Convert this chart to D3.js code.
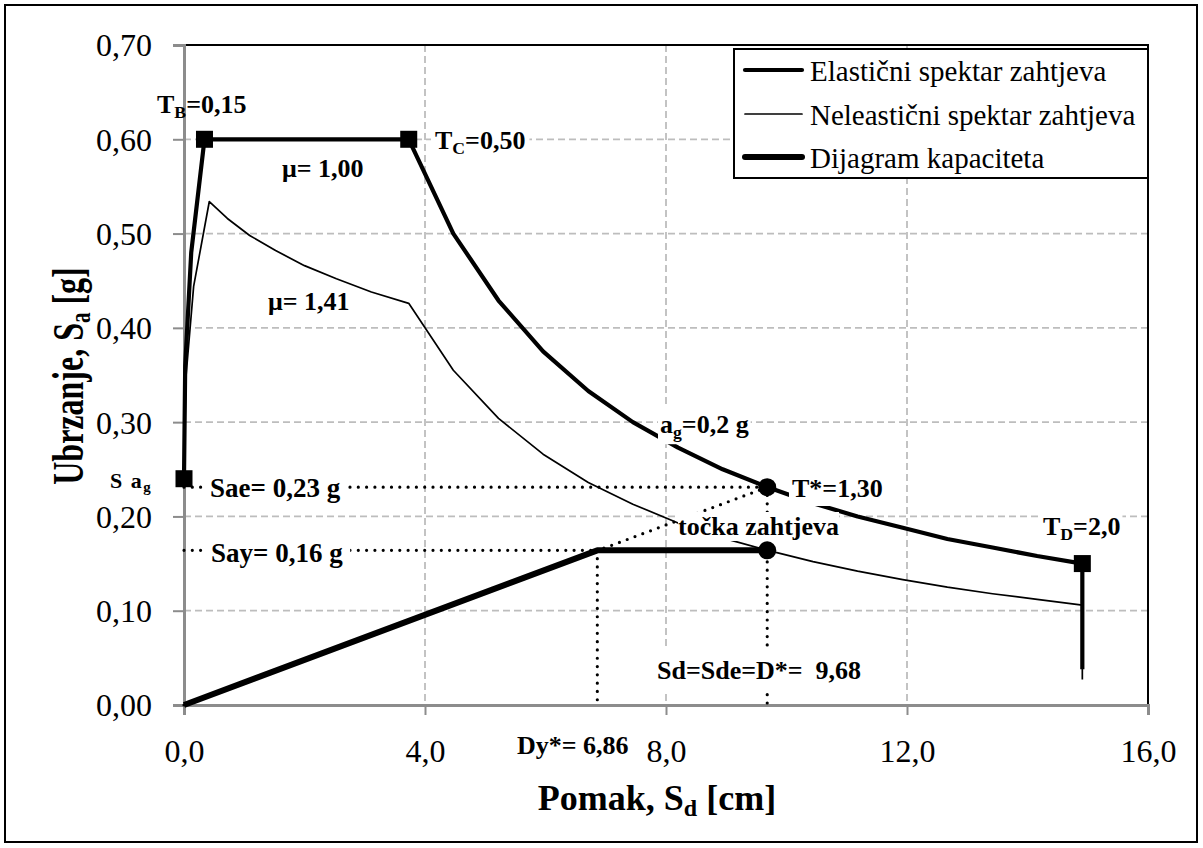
<!DOCTYPE html>
<html><head><meta charset="utf-8">
<script src="https://cdn.jsdelivr.net/npm/d3@7"></script>
<style>
body{margin:0;background:#fff;}
svg, svg text{font-family:"Liberation Serif","Tinos","Nimbus Roman","Times New Roman","DejaVu Serif",serif !important;}
</style></head>
<body><svg id="c" width="1203" height="848"></svg>
<script>
// ---------- data ----------
const xTicks = [0, 4, 8, 12, 16];
const xTickLabels = ["0,0", "4,0", "8,0", "12,0", "16,0"];
const yTicks = [0, 0.1, 0.2, 0.3, 0.4, 0.5, 0.6, 0.7];
const yTickLabels = ["0,00", "0,10", "0,20", "0,30", "0,40", "0,50", "0,60", "0,70"];

const seriesNames = ["Elastični spektar zahtjeva", "Neleastični spektar zahtjeva", "Dijagram kapaciteta"];

// Elastic demand spectrum (Sd [cm], Sa [g])
const elasticSd = [0.00, 0.02, 0.12, 0.34, 3.73, 4.47, 5.22, 5.96, 6.71, 7.45, 8.20, 8.94, 9.69, 10.44, 11.18, 11.93, 12.67, 13.42, 14.16, 14.91, 14.91];
const elasticSa = [0.240, 0.360, 0.480, 0.600, 0.600, 0.500, 0.429, 0.375, 0.333, 0.300, 0.273, 0.250, 0.231, 0.214, 0.200, 0.188, 0.176, 0.167, 0.158, 0.150, 0.038];

// Inelastic demand spectrum (mu = 1,41)
const inelasticSd = [0.00, 0.03, 0.16, 0.42, 0.72, 1.09, 1.52, 2.00, 2.53, 3.11, 3.73, 4.47, 5.22, 5.96, 6.71, 7.45, 8.20, 8.95, 9.69, 10.44, 11.18, 11.93, 12.67, 13.42, 14.16, 14.91, 14.91];
const inelasticSa = [0.240, 0.346, 0.444, 0.534, 0.516, 0.498, 0.482, 0.466, 0.452, 0.438, 0.426, 0.355, 0.304, 0.266, 0.236, 0.213, 0.193, 0.177, 0.164, 0.152, 0.142, 0.133, 0.125, 0.118, 0.112, 0.106, 0.027];

// Capacity diagram
const capacitySd = [0.00, 6.86, 9.68];
const capacitySa = [0.000, 0.164, 0.164];

// Characteristic points (squares) on elastic spectrum
const cornerSd = [0.00, 0.34, 3.73, 14.91];
const cornerSa = [0.240, 0.600, 0.600, 0.150];

// Demand points (circles)
const demandSd = [9.68, 9.68];
const demandSa = [0.231, 0.164];

// Dotted construction lines
const guideFromSd = [0.00, 0.00, 6.86, 9.68, 0.00];
const guideFromSa = [0.231, 0.164, 0.164, 0.231, 0.000];
const guideToSd   = [9.68, 6.86, 6.86, 9.68, 9.68];
const guideToSa   = [0.231, 0.164, 0.000, 0.000, 0.231];

// ---------- drawing ----------
const FONT = '"Liberation Serif","Tinos","Nimbus Roman","Times New Roman","DejaVu Serif",serif';
const svg = d3.select("#c").attr("font-family", FONT);
const L = 184, R = 1148, T = 45, B = 705;
const x = d3.scaleLinear().domain([0, 16]).range([L, R]);
const y = d3.scaleLinear().domain([0, 0.7]).range([B, T]);

// outer border
svg.append("rect").attr("x", 5).attr("y", 5).attr("width", 1192).attr("height", 837)
  .attr("fill", "#fff").attr("stroke", "#000").attr("stroke-width", 2);

// gridlines
const grid = svg.append("g").attr("stroke", "#bdbdbd").attr("stroke-width", 1.8).attr("stroke-dasharray", "7,4");
yTicks.filter(v => v > 0 && v < 0.7).forEach(v => {
  grid.append("line").attr("x1", L).attr("x2", R).attr("y1", y(v)).attr("y2", y(v));
});
xTicks.filter(v => v > 0 && v < 16).forEach(v => {
  grid.append("line").attr("x1", x(v)).attr("x2", x(v)).attr("y1", T).attr("y2", B);
});

// plot border
svg.append("rect").attr("x", L).attr("y", T).attr("width", R - L).attr("height", B - T)
  .attr("fill", "none").attr("stroke", "#000").attr("stroke-width", 2);

// axes
const yAxis = d3.axisLeft(y).tickValues(yTicks).tickFormat((d, i) => yTickLabels[i]).tickSize(11).tickPadding(21);
const xAxis = d3.axisBottom(x).tickValues(xTicks).tickFormat((d, i) => xTickLabels[i]).tickSize(10).tickPadding(24);
const gy = svg.append("g").attr("transform", `translate(${L},0)`).call(yAxis);
const gx = svg.append("g").attr("transform", `translate(0,${B})`).call(xAxis);
[gx, gy].forEach(g => {
  g.attr("font-family", FONT);
  g.select(".domain").attr("stroke", "#8c8c8c").attr("stroke-width", 3);
  g.selectAll(".tick line").attr("stroke", "#8c8c8c").attr("stroke-width", 2);
  g.selectAll(".tick text").attr("font-size", 32).attr("fill", "#000").attr("font-family", FONT);
});
gy.selectAll(".tick text").attr("dy", "0.34em");

// lines
const line = d3.line().x(d => x(d[0])).y(d => y(d[1]));
const zip = (a, b) => a.map((v, i) => [v, b[i]]);

guideFromSd.forEach((v, i) => {
  svg.append("line")
    .attr("x1", x(v)).attr("y1", y(guideFromSa[i]))
    .attr("x2", x(guideToSd[i])).attr("y2", y(guideToSa[i]))
    .attr("stroke", "#000").attr("stroke-width", 3.2)
    .attr("stroke-linecap", "round").attr("stroke-dasharray", "0,8.3");
});

svg.append("path").attr("d", line(zip(inelasticSd, inelasticSa)))
  .attr("fill", "none").attr("stroke", "#000").attr("stroke-width", 1.7).attr("stroke-linejoin", "round");
svg.append("path").attr("d", line(zip(elasticSd, elasticSa)))
  .attr("fill", "none").attr("stroke", "#000").attr("stroke-width", 4.2).attr("stroke-linejoin", "round");
svg.append("path").attr("d", line(zip(capacitySd, capacitySa)))
  .attr("fill", "none").attr("stroke", "#000").attr("stroke-width", 6).attr("stroke-linejoin", "round");

// markers
cornerSd.forEach((v, i) => {
  svg.append("rect").attr("x", x(v) - 8.5).attr("y", y(cornerSa[i]) - 8.5)
    .attr("width", 17).attr("height", 17).attr("fill", "#000");
});
demandSd.forEach((v, i) => {
  svg.append("circle").attr("cx", x(v)).attr("cy", y(demandSa[i])).attr("r", 9).attr("fill", "#000");
});

// labels
function label(px, py, parts, size, opts = {}) {
  const g = svg.append("g");
  const t = g.append("text").attr("x", px).attr("y", py).attr("font-size", size)
    .attr("font-weight", "bold").attr("fill", "#000").attr("font-family", FONT);
  if (opts.spacing) t.attr("letter-spacing", opts.spacing);
  let afterSub = false;
  parts.forEach(p => {
    if (typeof p === "string") {
      const s = t.append("tspan").text(p);
      if (afterSub) s.attr("dy", -size * 0.2);
      afterSub = false;
    } else {
      t.append("tspan").attr("font-size", size * 0.68).attr("dy", size * 0.2).text(p.sub);
      afterSub = true;
    }
  });
  if (opts.bg !== false) {
    const bb = t.node().getBBox();
    const pad = opts.pad == null ? 4 : opts.pad;
    g.insert("rect", "text").attr("x", bb.x - pad).attr("y", bb.y - pad)
      .attr("width", bb.width + 2 * pad).attr("height", bb.height + 2 * pad).attr("fill", "#fff");
  }
  return g;
}

label(157, 113, ["T", { sub: "B" }, "=0,15"], 26, { bg: false });
label(435, 149, ["T", { sub: "C" }, "=0,50"], 26);
label(282, 177, ["μ= 1,00"], 26);
label(268, 310, ["μ= 1,41"], 26, { pad: 1 });
label(660, 433, ["a", { sub: "g" }, "=0,2 g"], 26, { pad: 2 });
label(792, 497, ["T*=1,30"], 26, { pad: 3 });
label(678, 535, ["točka zahtjeva"], 26, { pad: 0 });
label(1043, 535, ["T", { sub: "D" }, "=2,0"], 26, { pad: 2 });
label(110, 488, ["S a", { sub: "g" }], 22, { bg: false, spacing: 1.5 });
label(210, 497, ["Sae= 0,23 g"], 27, { pad: 7 });
label(211, 562, ["Say= 0,16 g"], 27, { pad: 7 });
label(657, 679, ["Sd=Sde=D*=\u00a0 9,68"], 26, { pad: 8 });
label(517, 754, ["Dy*= 6,86"], 26, { bg: false });

// axis titles
svg.append("text").attr("x", 657).attr("y", 810).attr("text-anchor", "middle")
  .attr("font-size", 36).attr("font-weight", "bold").attr("font-family", FONT)
  .call(t => {
    t.append("tspan").text("Pomak, S");
    t.append("tspan").attr("font-size", 24).attr("dy", 6).text("d");
    t.append("tspan").attr("dy", -6).text(" [cm]");
  });
svg.append("text").attr("transform", "translate(83,376) rotate(-90) scale(1,1.4)")
  .attr("text-anchor", "middle").attr("font-size", 32).attr("font-weight", "bold").attr("font-family", FONT)
  .call(t => {
    t.append("tspan").text("Ubrzanje, S");
    t.append("tspan").attr("font-size", 21).attr("dy", 5).text("a");
    t.append("tspan").attr("dy", -5).text(" [g]");
  });

// legend
const lg = svg.append("g");
lg.append("rect").attr("x", 734).attr("y", 49).attr("width", 414).attr("height", 129)
  .attr("fill", "#fff").attr("stroke", "#000").attr("stroke-width", 2);
const legendLineY = [70, 114, 157];
const legendWidths = [4.2, 1.7, 6];
seriesNames.forEach((n, i) => {
  lg.append("line").attr("x1", 745).attr("x2", 802).attr("y1", legendLineY[i]).attr("y2", legendLineY[i])
    .attr("stroke", "#000").attr("stroke-width", legendWidths[i]).attr("stroke-linecap", "round");
  lg.append("text").attr("x", 810).attr("y", legendLineY[i] + 11).attr("font-size", 29)
    .attr("font-family", FONT).text(n);
});
</script></body></html>
